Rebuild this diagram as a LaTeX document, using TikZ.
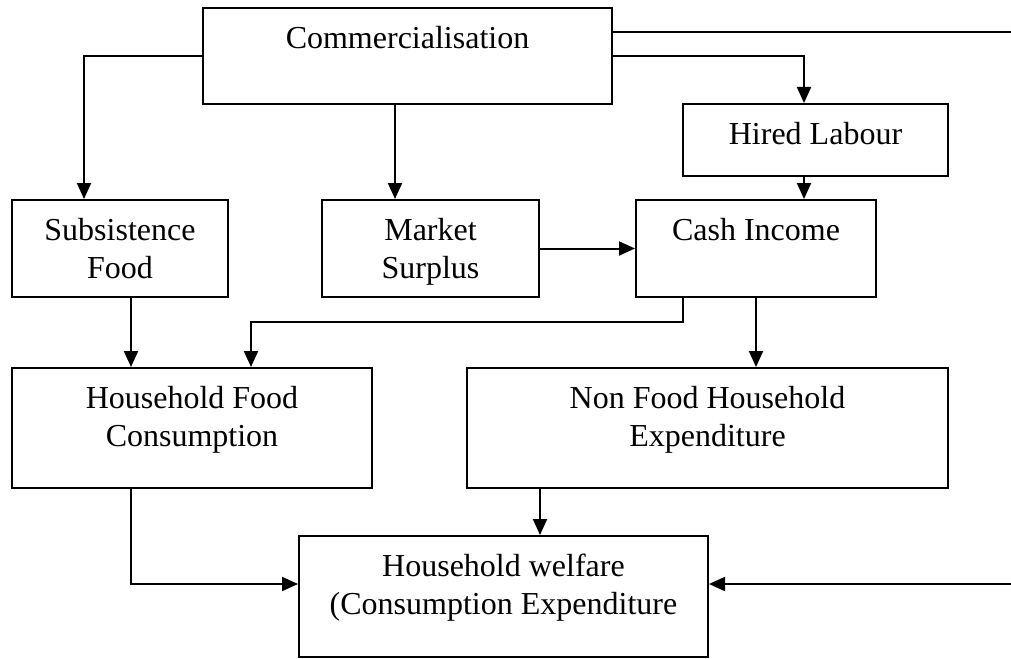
\documentclass[tikz,border=0pt]{standalone}
\usepackage{fontspec}
\setmainfont{Liberation Serif}
\usetikzlibrary{positioning,arrows.meta}

\tikzset{
  box/.style={draw, line width=1pt, rectangle, inner sep=0pt},
  boxtext/.style={inner sep=0pt, align=center, font=\fontsize{16}{18.75}\selectfont},
  flow/.style={line width=1pt, -{Triangle[length=8pt,width=7pt]}},
  plain/.style={line width=1pt}
}

\begin{document}
\begin{tikzpicture}[x=0.5pt,y=-0.5pt]
		\useasboundingbox (0,0) rectangle (1011,658);
		% boxes
		\node[box, minimum width=204.5pt, minimum height=48pt] (comm) at (407.5,56) {};
		\node[box, minimum width=132.5pt, minimum height=36pt] (hired) at (815.5,140) {};
		\node[box, minimum width=108pt, minimum height=48.5pt] (subs) at (120,248.5) {};
		\node[box, minimum width=108.5pt, minimum height=48.5pt] (market) at (430.5,248.5) {};
		\node[box, minimum width=120pt, minimum height=48.5pt] (cash) at (756,248.5) {};
		\node[box, minimum width=180pt, minimum height=60pt] (hfc) at (192,428) {};
		\node[box, minimum width=240.5pt, minimum height=60pt] (nfhe) at (707.5,428) {};
		\node[box, minimum width=204.5pt, minimum height=60.5pt] (welf) at (503.5,596.5) {};
		% texts
		\node[boxtext, below=9.5pt of comm.north] (commtxt) {Commercialisation};
		\node[boxtext, below=9.5pt of hired.north] (hiredtxt) {Hired Labour};
		\node[boxtext, below=9.5pt of subs.north] (substxt) {Subsistence\\Food};
		\node[boxtext, below=9.5pt of market.north] (markettxt) {Market\\Surplus};
		\node[boxtext, below=9.5pt of cash.north] (cashtxt) {Cash Income};
		\node[boxtext, below=9.5pt of hfc.north] (hfctxt) {Household Food\\Consumption};
		\node[boxtext, below=9.5pt of nfhe.north] (nfhetxt) {Non Food Household\\Expenditure};
		\node[boxtext, below=9.5pt of welf.north] (welftxt) {Household welfare\\(Consumption Expenditure};
		% free ends on the right
		\coordinate (topend) at (1011,32);
		\coordinate (botend) at (1011,584);
		% connectors
		\draw[flow] (comm.west) -| ([xshift=-18pt]subs.north);
		\draw[flow] ([xshift=-6.25pt]comm.south) -- ([xshift=-6.25pt]comm.south |- market.north);
		\draw[flow] (comm.east) -| ([xshift=-5.75pt]hired.north);
		\draw[plain] ([yshift=12pt]comm.east) -- (topend);
		\draw[flow] ([xshift=-5.75pt]hired.south) -- ([xshift=-5.75pt]hired.south |- cash.north);
		\draw[flow] (market.east) -- (cash.west);
		\draw[flow] ([xshift=5.5pt]subs.south) -- ([xshift=5.5pt]subs.south |- hfc.north);
		\draw[flow] ([xshift=-36.5pt]cash.south) -- ++(0,24) -| ([xshift=29.5pt]hfc.north);
		\draw[flow] (cash.south) -- (cash.south |- nfhe.north);
		\draw[flow] ([xshift=-83.75pt]nfhe.south) -- ([xshift=-83.75pt]nfhe.south |- welf.north);
		\draw[flow] ([xshift=-30.5pt]hfc.south) |- ([yshift=6.25pt]welf.west);
		\draw[flow] (botend) -- ([yshift=6.25pt]welf.east);
\end{tikzpicture}
\end{document}
